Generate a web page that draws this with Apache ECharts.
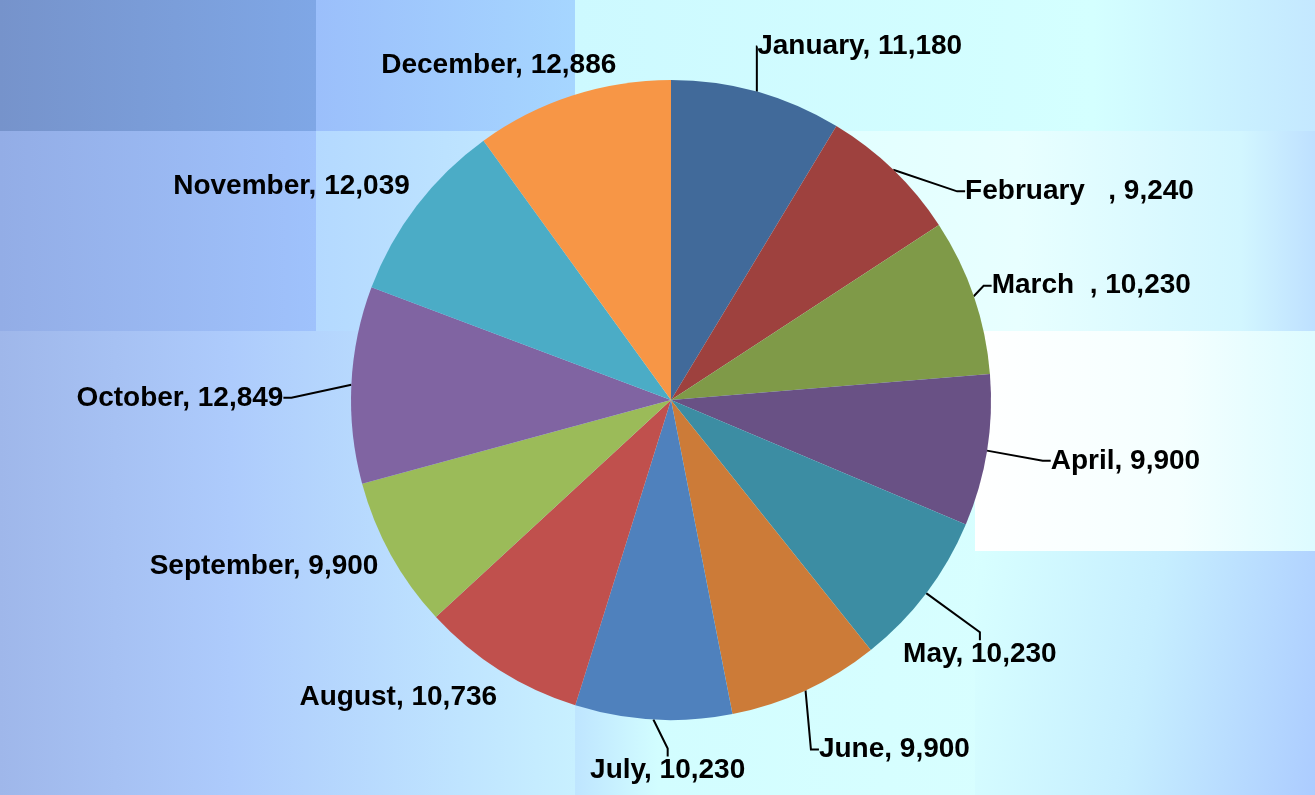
<!DOCTYPE html>
<html lang="en">
<head>
  <meta charset="UTF-8">
  <title>Monthly pie</title>
  <script src="https://cdn.jsdelivr.net/npm/echarts@6/dist/echarts.min.js"></script>
  <style>
    html, body { margin: 0; padding: 0; }
    #wrap { position: relative; width: 1315px; height: 795px; overflow: hidden;
      background: linear-gradient(90deg, #93ACE4 0%, #A6C6FB 25%, #BFE6FF 44%, #D2FDFF 50%, #DAFFFF 85%, #C8ECFF 95%, #B7D6FF 100%); }
    .tile { position: absolute; }
    #main { position: absolute; left: 0; top: 0; width: 1315px; height: 795px; }
  </style>
</head>
<body>
<div id="wrap">
  <!-- background tiles -->
  <div class="tile" style="left:0;top:0;width:316px;height:131px;background:linear-gradient(90deg,#7693CB,#7FA7E6);"></div>
  <div class="tile" style="left:316px;top:0;width:259px;height:131px;background:linear-gradient(90deg,#9BBFFB,#A6D6FF);"></div>
  <div class="tile" style="left:575px;top:0;width:740px;height:131px;background:linear-gradient(90deg,#CDF9FF,#D4FFFF 70%,#C4E8FF);"></div>
  <div class="tile" style="left:575px;top:131px;width:740px;height:200px;background:linear-gradient(90deg,#DAFFFF,#E8FFFF 60%,#D2F6FF 90%,#BEE0FF);"></div>
  <div class="tile" style="left:0;top:131px;width:316px;height:200px;background:linear-gradient(90deg,#93ADE6,#9FC2FC);"></div>
  <div class="tile" style="left:316px;top:131px;width:259px;height:200px;background:linear-gradient(90deg,#B4D9FF,#C4EBFF);"></div>
  <div class="tile" style="left:975px;top:331px;width:340px;height:220px;background:linear-gradient(90deg,#FFFFFF,#F4FFFF 60%,#DDFBFF);"></div>
  <div class="tile" style="left:0;top:331px;width:575px;height:464px;background:linear-gradient(90deg,#9FB7EA,#ADCBFC 40%,#BFE4FF 80%,#C8F0FF);"></div>
  <div class="tile" style="left:975px;top:551px;width:340px;height:244px;background:linear-gradient(100deg,#D8FFFF,#C6EEFF 50%,#ACCCFF);"></div>
  <div id="main"></div>
</div>

<script type="text/javascript">
  var months = ['January', 'February   ', 'March  ', 'April', 'May', 'June',
    'July', 'August', 'September', 'October', 'November', 'December'];
  var sales = [11180, 9240, 10230, 9900, 10230, 9900, 10230, 10736, 9900, 12849, 12039, 12886];
  var sliceColors = ['#416A9A', '#9E413E', '#7F9A48', '#695185', '#3C8DA3', '#CC7B38',
    '#4F81BD', '#C0504D', '#9BBB59', '#8064A2', '#4BACC6', '#F79646'];
  // which labels get a leader line in the original
  var showLine = [true, true, true, true, true, true, true, false, false, true, false, false];
  // nudges of each label from the default outside spot
  var labelShift = [[-18, -26], [45, 36], [-14, -4], [31, 7], [-52, 49], [-8, 41],
    [106, 31], [21, 10], [18, 2], [-35, 14], [22, -7], [63, -11]];

  var chartDom = document.getElementById('main');
  var myChart = echarts.init(chartDom);
  var option;

  var pieData = months.map(function (m, i) {
    return {
      name: m,
      value: sales[i],
      itemStyle: { color: sliceColors[i] },
      labelLine: { show: showLine[i] }
    };
  });

  option = {
    backgroundColor: 'transparent',
    animation: false,
    series: [
      {
        type: 'pie',
        center: [671, 400],
        radius: 320,
        startAngle: 90,
        clockwise: true,
        avoidLabelOverlap: false,
        data: pieData,
        itemStyle: { borderWidth: 0 },
        label: {
          show: true,
          position: 'outside',
          color: '#000',
          fontFamily: 'Liberation Sans',
          fontWeight: 'bold',
          fontSize: 28,
          formatter: function (p) {
            return p.name + ', ' + p.value.toLocaleString('en-US');
          }
        },
        labelLine: {
          length: 20,
          length2: 8,
          lineStyle: { color: '#000', width: 2 }
        },
        labelLayout: function (params) {
          var s = labelShift[params.dataIndex];
          var r = params.labelRect;
          return {
            x: r.x + s[0],
            y: r.y + s[1],
            align: 'left',
            verticalAlign: 'top'
          };
        }
      }
    ]
  };

  option && myChart.setOption(option);
</script>
</body>
</html>
